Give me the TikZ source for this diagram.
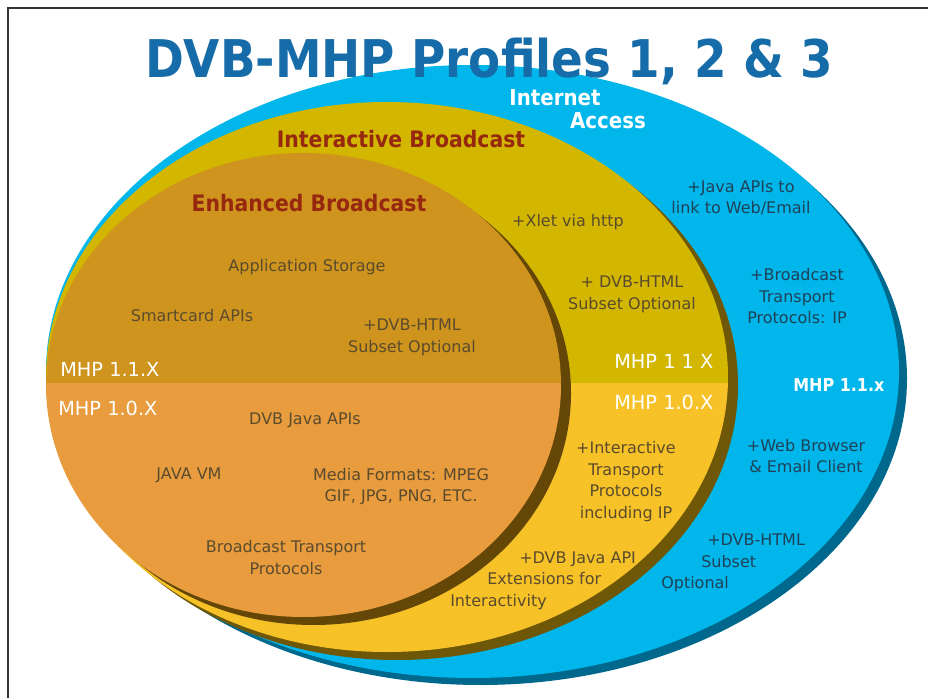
\documentclass[tikz,border=0pt]{standalone}
\usepackage{fontspec}
\setmainfont{DejaVu Sans}
\newfontfamily\headfont{DejaVu Sans}[FakeStretch=0.9]

\definecolor{netblue}{RGB}{0,182,234}
\definecolor{netshade}{RGB}{0,104,140}
\definecolor{iactup}{RGB}{211,182,0}
\definecolor{iactlow}{RGB}{246,194,40}
\definecolor{iactshade}{RGB}{110,88,8}
\definecolor{enhup}{RGB}{207,148,30}
\definecolor{enhlow}{RGB}{232,156,62}
\definecolor{enhshade}{RGB}{100,70,6}
\definecolor{titleblue}{RGB}{22,108,168}
\definecolor{headred}{RGB}{150,40,15}
\definecolor{txtbrown}{RGB}{90,75,45}
\definecolor{txtslate}{RGB}{32,66,88}

\begin{document}
\begin{tikzpicture}[x=0.75pt,y=-0.75pt,
  every node/.style={inner sep=0pt},
  body/.style={font=\fontsize{12}{16.2}\selectfont,text=txtbrown,align=center},
  bodynet/.style={body,text=txtslate},
  head/.style={font=\headfont\bfseries\fontsize{17}{20}\selectfont,text=headred,anchor=base},
  mhp/.style={font=\fontsize{14.5}{17}\selectfont,text=white,anchor=base west}]
  \useasboundingbox (0,0) rectangle (928,698);
  \fill[white] (0,0) rectangle (928,698);
  \draw[line width=1.1pt,black!80] (8,698) -- (8,8) -- (928,8);

  % internet access ring
  \fill[netshade] (480.5,378.5) ellipse [x radius=426.5,y radius=306.5];
  \fill[netblue] (472.5,371.5) ellipse [x radius=426.5,y radius=306.5];
  % interactive broadcast ring
  \fill[iactshade] (397,385) ellipse [x radius=341,y radius=275];
  \begin{scope}
    \clip (0,0) rectangle (928,384);
    \fill[iactup] (387,377) ellipse [x radius=341,y radius=275];
  \end{scope}
  \begin{scope}
    \clip (0,384) rectangle (928,698);
    \fill[iactlow] (387,377) ellipse [x radius=341,y radius=275];
  \end{scope}
  % enhanced broadcast core
  \fill[enhshade] (313.5,393) ellipse [x radius=257.5,y radius=232];
  \begin{scope}
    \clip (0,0) rectangle (928,384);
    \fill[enhup] (303.5,385) ellipse [x radius=257.5,y radius=232];
  \end{scope}
  \begin{scope}
    \clip (0,384) rectangle (928,698);
    \fill[enhlow] (303.5,385) ellipse [x radius=257.5,y radius=232];
  \end{scope}

  \node (title) [anchor=base,text=titleblue,font=\headfont\bfseries\fontsize{39}{44}\selectfont] at (489,78) {DVB-MHP Profiles 1, 2 \& 3};

  % headings
  \node (inet) [head,text=white,font=\headfont\bfseries\fontsize{16.5}{20}\selectfont] at (555,106) {Internet};
  \node (access) [head,text=white,font=\headfont\bfseries\fontsize{16.5}{20}\selectfont] at (608,129) {Access};
  \node (iact) [head] at (401,148) {Interactive Broadcast};
  \node (enh) [head] at (309,212) {Enhanced Broadcast};

  % enhanced broadcast
  \node (appstore) [body,anchor=base] at (307,272) {Application Storage};
  \node (smartcard) [body,anchor=base] at (192,322) {Smartcard APIs};
  \node (enhhtml) [body] at (412,337.5) {+DVB-HTML\\Subset Optional};
  \node (javaapi) [body,anchor=base] at (305,425) {DVB Java APIs};
  \node (javavm) [body,anchor=base] at (189,479) {JAVA VM};
  \node (media) [body] at (401,486.5) {Media Formats: MPEG\\GIF, JPG, PNG, ETC.};
  \node (bcproto) [body] at (286,557.4) {Broadcast Transport\\Protocols};

  % interactive broadcast
  \node (xlet) [body,anchor=base] at (568,227) {+Xlet via http};
  \node (iacthtml) [body] at (632,294.5) {+ DVB-HTML\\Subset Optional};
  \node (iactproto) [body] at (626,481.5) {+Interactive\\Transport\\Protocols\\including IP};
  \node (jext1) [body,anchor=base west] at (519,563) {+DVB Java API};
  \node (jext2) [body,anchor=base west] at (487,584) {Extensions for};
  \node (jext3) [body,anchor=base west] at (450,606) {Interactivity};

  % internet access
  \node (weblink) [bodynet] at (741,198) {+Java APIs to\\link to Web/Email};
  \node (ipproto) [bodynet] at (797,296.4) {+Broadcast\\Transport\\Protocols: IP};
  \node (browser) [bodynet] at (806,456) {+Web Browser\\\& Email Client};
  \node (nethtml1) [bodynet,anchor=base west] at (707,545) {+DVB-HTML};
  \node (nethtml2) [bodynet,anchor=base west] at (701,567) {Subset};
  \node (nethtml3) [bodynet,anchor=base west] at (661,588) {Optional};

  % profile labels
  \node (enh11) [mhp] at (60,377) {MHP 1.1.X};
  \node (enh10) [mhp] at (58,416) {MHP 1.0.X};
  \node (iact11) [mhp] at (614,369) {MHP 1 1 X};
  \node (iact10) [mhp] at (614,410) {MHP 1.0.X};
  \node (net11) [mhp,font=\headfont\bfseries\fontsize{13.3}{16}\selectfont] at (793,392) {MHP 1.1.x};
\end{tikzpicture}
\end{document}
